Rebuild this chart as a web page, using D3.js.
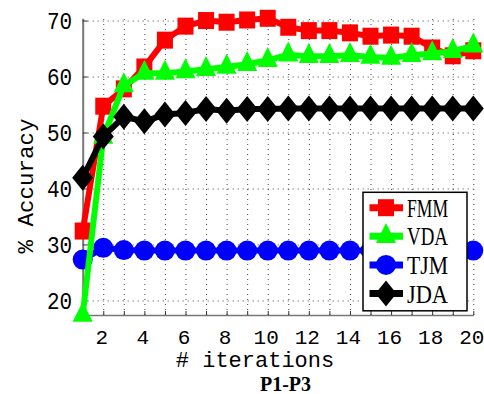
<!DOCTYPE html>
<html>
<head>
<meta charset="utf-8">
<script src="https://cdn.jsdelivr.net/npm/d3@7"></script>
<style>
  html, body { margin: 0; padding: 0; background: #fff; }
  svg { display: block; }
</style>
</head>
<body>
<svg id="chart" width="484" height="394"></svg>
<script>
// Iteration index on the x axis
const iterations = d3.range(1, 21);

// Accuracy (%) per iteration for each method
const fmm = [32.4, 54.7, 57.8, 61.7, 66.5, 69.0, 70.0, 69.7, 70.1, 70.4,
             68.8, 68.2, 68.2, 67.8, 67.2, 67.4, 67.2, 65.1, 63.7, 64.6];
const vda = [17.4, 49.2, 58.4, 60.6, 60.6, 60.9, 61.3, 61.7, 62.2, 62.9,
             63.9, 63.6, 63.6, 63.8, 63.5, 63.3, 63.8, 64.1, 64.5, 65.5];
const tjm = [27.3, 29.4, 29.0, 28.9, 28.9, 28.9, 28.9, 28.9, 28.9, 28.9,
             28.9, 28.9, 28.9, 28.9, 28.9, 28.9, 28.9, 28.9, 28.9, 28.9];
const jda = [41.9, 49.3, 52.8, 52.0, 53.2, 53.5, 54.2, 53.9, 54.2, 54.2,
             54.3, 54.3, 54.3, 54.3, 54.3, 54.3, 54.3, 54.3, 54.3, 54.3];

const seriesNames = ["FMM", "VDA", "TJM", "JDA"];
const xTickLabels = [2, 4, 6, 8, 10, 12, 14, 16, 18, 20];
const yTickLabels = [20, 30, 40, 50, 60, 70];
const xTitle = "# iterations";
const yTitle = "% Accuracy";
const caption = "P1-P3";

const styles = {
  FMM: { color: "#ff0000", marker: "square",   values: fmm },
  VDA: { color: "#00ff00", marker: "triangle", values: vda },
  TJM: { color: "#0000ff", marker: "circle",   values: tjm },
  JDA: { color: "#000000", marker: "diamond",  values: jda }
};
// drawing order (later ones sit on top)
const drawOrder = ["TJM", "FMM", "VDA", "JDA"];

const svg = d3.select("#chart");
const plot = { left: 82.7, right: 473.3, top: 18.3, bottom: 315 };

const x = d3.scaleLinear().domain([1, 20]).range([plot.left, plot.right]);
const y = d3.scaleLinear().domain([17.4, 70.4]).range([plot.bottom, plot.top]);

const monoFont = "'Liberation Mono', 'DejaVu Sans Mono', monospace";

// dotted grid
const gridV = svg.append("g")
  .attr("transform", `translate(0,${plot.bottom})`)
  .call(d3.axisBottom(x).tickValues(iterations).tickSize(-(plot.bottom - plot.top)).tickFormat(""));
gridV.select(".domain").remove();
gridV.selectAll("line").attr("stroke", "#444").attr("stroke-width", 1).attr("stroke-dasharray", "1,4")
  .filter(d => d === 1).remove();

const gridH = svg.append("g")
  .attr("transform", `translate(${plot.left},0)`)
  .call(d3.axisLeft(y).tickValues(yTickLabels).tickSize(-(plot.right - plot.left)).tickFormat(""));
gridH.select(".domain").remove();
gridH.selectAll("line").attr("stroke", "#444").attr("stroke-width", 1).attr("stroke-dasharray", "1,4");

// x axis: ticks at every iteration, labels on even ones
const xAxis = svg.append("g")
  .attr("transform", `translate(0,${plot.bottom})`)
  .call(d3.axisBottom(x).tickValues(iterations)
    .tickSizeInner(-4).tickSizeOuter(0).tickPadding(14.5)
    .tickFormat(d => xTickLabels.includes(d) ? d : ""));
xAxis.select(".domain").attr("stroke", "#777").attr("stroke-width", 1.5);
xAxis.selectAll(".tick line").attr("stroke", "#333");
xAxis.selectAll(".tick text")
  .attr("font-family", monoFont).attr("font-size", 21).attr("fill", "#000")
  .attr("dx", -2);

// y axis
const yAxis = svg.append("g")
  .attr("transform", `translate(${plot.left},0)`)
  .call(d3.axisLeft(y).tickValues(yTickLabels)
    .tickSizeInner(-5).tickSizeOuter(0).tickPadding(10.5));
yAxis.select(".domain").attr("stroke", "#777").attr("stroke-width", 2);
yAxis.selectAll(".tick line").attr("stroke", "#333");
yAxis.selectAll(".tick text")
  .attr("font-family", monoFont).attr("font-size", 21).attr("fill", "#000")
  .attr("transform", "scale(1,1.18)");

// marker shapes
function drawMarker(g, kind, cx, cy, color) {
  if (kind === "square") {
    g.append("rect").attr("x", cx - 8).attr("y", cy - 8.5).attr("width", 16).attr("height", 17)
      .attr("fill", color);
  } else if (kind === "triangle") {
    g.append("path").attr("d", `M${cx},${cy - 13.3}L${cx + 10},${cy + 6.7}L${cx - 10},${cy + 6.7}Z`)
      .attr("fill", color);
  } else if (kind === "circle") {
    g.append("circle").attr("cx", cx).attr("cy", cy).attr("r", 10).attr("fill", color);
  } else if (kind === "diamond") {
    g.append("path").attr("d", `M${cx},${cy - 13}L${cx + 10.5},${cy}L${cx},${cy + 13}L${cx - 10.5},${cy}Z`)
      .attr("fill", color);
  }
}

const line = d3.line().x((d, i) => x(iterations[i])).y(d => y(d));

drawOrder.forEach(name => {
  const s = styles[name];
  const g = svg.append("g").attr("class", "series-" + name);
  g.append("path").datum(s.values).attr("d", line)
    .attr("fill", "none").attr("stroke", s.color).attr("stroke-width", 6)
    .attr("stroke-linejoin", "round");
  s.values.forEach((v, i) => drawMarker(g, s.marker, x(iterations[i]), y(v), s.color));
});

// legend
const legend = svg.append("g");
legend.append("rect").attr("x", 363).attr("y", 192.3).attr("width", 104).attr("height", 118.5)
  .attr("fill", "#fff").attr("stroke", "#000").attr("stroke-width", 1.5);
const legendY = d3.scalePoint().domain(seriesNames).range([207.7, 293.5]);
seriesNames.forEach(name => {
  const s = styles[name];
  const cy = legendY(name);
  legend.append("line").attr("x1", 369.5).attr("x2", 403).attr("y1", cy).attr("y2", cy)
    .attr("stroke", s.color).attr("stroke-width", 7);
  drawMarker(legend, s.marker, 386, cy, s.color);
  legend.append("g").attr("transform", `translate(407,${cy + 9}) scale(1,1.15)`)
    .append("text").text(name)
    .attr("font-family", "'Liberation Serif', serif").attr("font-size", 22)
    .attr("textLength", 41).attr("lengthAdjust", "spacingAndGlyphs").attr("fill", "#000");
});

// axis titles and caption
svg.append("text").text(xTitle)
  .attr("x", 255).attr("y", 367).attr("text-anchor", "middle")
  .attr("font-family", monoFont).attr("font-size", 22).attr("fill", "#000");

svg.append("text").text(yTitle)
  .attr("transform", "translate(33,186) rotate(-90)")
  .attr("text-anchor", "middle")
  .attr("font-family", monoFont).attr("font-size", 22.5).attr("fill", "#000");

svg.append("text").text(caption)
  .attr("x", 285.5).attr("y", 391).attr("text-anchor", "middle")
  .attr("font-family", "'Liberation Serif', serif").attr("font-weight", "bold")
  .attr("font-size", 20).attr("fill", "#000");
</script>
</body>
</html>
